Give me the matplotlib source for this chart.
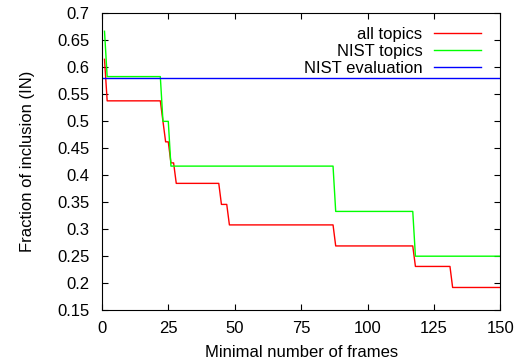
import matplotlib.pyplot as plt

plt.rcParams['font.family'] = ['Liberation Sans', 'DejaVu Sans']

# step curves (frame count -> fraction)
all_x = [1, 2, 22, 24, 25, 26, 27, 28, 44, 45, 47, 48, 87, 88, 117, 118, 131, 132, 150]
all_y = [0.615, 0.538, 0.538, 0.462, 0.462, 0.423, 0.423, 0.385, 0.385, 0.346,
         0.346, 0.308, 0.308, 0.269, 0.269, 0.231, 0.231, 0.192, 0.192]

nist_x = [1, 2, 22, 23, 25, 26, 87, 88, 117, 118, 150]
nist_y = [0.667, 0.583, 0.583, 0.5, 0.5, 0.417, 0.417, 0.333, 0.333, 0.25, 0.25]

nist_eval = 0.58

fig = plt.figure(figsize=(5.17, 3.64), dpi=100)
ax = fig.add_axes([0.197, 0.148, 0.771, 0.815])

ax.plot(all_x, all_y, color='#ff0000', lw=1, label='all topics')
ax.plot(nist_x, nist_y, color='#00ff00', lw=1, label='NIST topics')
ax.axhline(nist_eval, color='#0000ff', lw=1, label='NIST evaluation')

ax.set_xlim(0, 150)
ax.set_ylim(0.15, 0.7)
ax.set_xticks([0, 25, 50, 75, 100, 125, 150])
ax.set_yticks([0.15, 0.2, 0.25, 0.3, 0.35, 0.4, 0.45, 0.5, 0.55, 0.6, 0.65, 0.7])
ax.set_yticklabels(['0.15', '0.2', '0.25', '0.3', '0.35', '0.4', '0.45', '0.5',
                    '0.55', '0.6', '0.65', '0.7'])
ax.tick_params(direction='in', top=True, right=True, length=4, labelsize=12, pad=8)
ax.tick_params(axis='y', pad=9)

ax.set_xlabel('Minimal number of frames', fontsize=12, labelpad=6)
ax.set_ylabel('Fraction of inclusion (IN)', fontsize=12, labelpad=16)

ax.legend(loc='upper right', bbox_to_anchor=(0.98, 0.993), frameon=False,
          markerfirst=False, fontsize=12, handlelength=2.8, handletextpad=0.7,
          labelspacing=0.1, borderaxespad=0.3)

fig.savefig('out.png', dpi=100)
